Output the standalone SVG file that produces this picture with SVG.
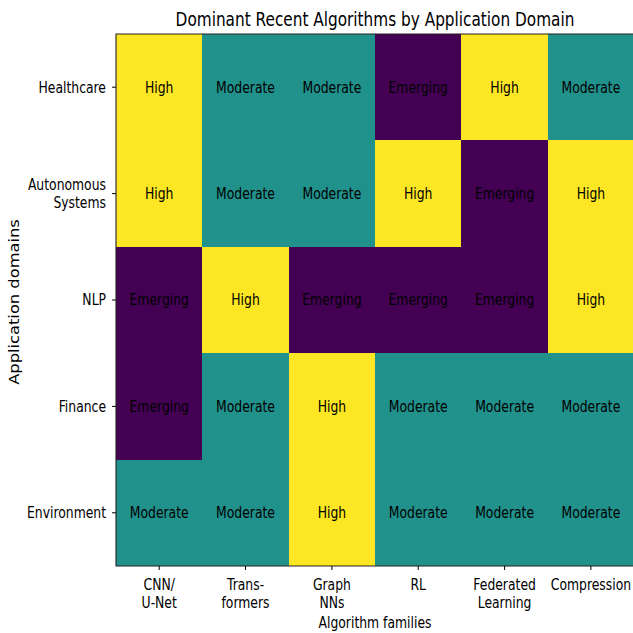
<svg xmlns="http://www.w3.org/2000/svg" width="633" height="633" viewBox="0 0 633 633">
<style>
text{font-family:"DejaVu Sans","Liberation Sans",sans-serif;fill:#000}
.c{font-size:15.3px;text-anchor:middle}
.t{font-size:15.3px}
.r{text-anchor:end}
.m{text-anchor:middle}
rect.hi,rect.mo,rect.em{shape-rendering:crispEdges}
.hi{fill:#fde725}
.mo{fill:#21918c}
.em{fill:#440154}
.tk{stroke:#000;stroke-width:1}
</style>
<rect width="633" height="633" fill="#fff"/>
<g id="cells">
<g id="row-healthcare">
<rect class="hi" x="116" y="34" width="86.35" height="106.4"/>
<rect class="mo" x="202.35" y="34" width="86.35" height="106.4"/>
<rect class="mo" x="288.7" y="34" width="86.35" height="106.4"/>
<rect class="em" x="375.05" y="34" width="86.35" height="106.4"/>
<rect class="hi" x="461.4" y="34" width="86.35" height="106.4"/>
<rect class="mo" x="547.75" y="34" width="86.35" height="106.4"/>
<text class="c" transform="translate(159.2,92.5) scale(0.81,1)">High</text>
<text class="c" transform="translate(245.5,92.5) scale(0.81,1)">Moderate</text>
<text class="c" transform="translate(331.9,92.5) scale(0.81,1)">Moderate</text>
<text class="c" transform="translate(418.2,92.5) scale(0.81,1)">Emerging</text>
<text class="c" transform="translate(504.6,92.5) scale(0.81,1)">High</text>
<text class="c" transform="translate(590.9,92.5) scale(0.81,1)">Moderate</text>
</g>
<g id="row-autonomous">
<rect class="hi" x="116" y="140.4" width="86.35" height="106.4"/>
<rect class="mo" x="202.35" y="140.4" width="86.35" height="106.4"/>
<rect class="mo" x="288.7" y="140.4" width="86.35" height="106.4"/>
<rect class="hi" x="375.05" y="140.4" width="86.35" height="106.4"/>
<rect class="em" x="461.4" y="140.4" width="86.35" height="106.4"/>
<rect class="hi" x="547.75" y="140.4" width="86.35" height="106.4"/>
<text class="c" transform="translate(159.2,198.9) scale(0.81,1)">High</text>
<text class="c" transform="translate(245.5,198.9) scale(0.81,1)">Moderate</text>
<text class="c" transform="translate(331.9,198.9) scale(0.81,1)">Moderate</text>
<text class="c" transform="translate(418.2,198.9) scale(0.81,1)">High</text>
<text class="c" transform="translate(504.6,198.9) scale(0.81,1)">Emerging</text>
<text class="c" transform="translate(590.9,198.9) scale(0.81,1)">High</text>
</g>
<g id="row-nlp">
<rect class="em" x="116" y="246.8" width="86.35" height="106.4"/>
<rect class="hi" x="202.35" y="246.8" width="86.35" height="106.4"/>
<rect class="em" x="288.7" y="246.8" width="86.35" height="106.4"/>
<rect class="em" x="375.05" y="246.8" width="86.35" height="106.4"/>
<rect class="em" x="461.4" y="246.8" width="86.35" height="106.4"/>
<rect class="hi" x="547.75" y="246.8" width="86.35" height="106.4"/>
<text class="c" transform="translate(159.2,305.3) scale(0.81,1)">Emerging</text>
<text class="c" transform="translate(245.5,305.3) scale(0.81,1)">High</text>
<text class="c" transform="translate(331.9,305.3) scale(0.81,1)">Emerging</text>
<text class="c" transform="translate(418.2,305.3) scale(0.81,1)">Emerging</text>
<text class="c" transform="translate(504.6,305.3) scale(0.81,1)">Emerging</text>
<text class="c" transform="translate(590.9,305.3) scale(0.81,1)">High</text>
</g>
<g id="row-finance">
<rect class="em" x="116" y="353.2" width="86.35" height="106.4"/>
<rect class="mo" x="202.35" y="353.2" width="86.35" height="106.4"/>
<rect class="hi" x="288.7" y="353.2" width="86.35" height="106.4"/>
<rect class="mo" x="375.05" y="353.2" width="86.35" height="106.4"/>
<rect class="mo" x="461.4" y="353.2" width="86.35" height="106.4"/>
<rect class="mo" x="547.75" y="353.2" width="86.35" height="106.4"/>
<text class="c" transform="translate(159.2,411.7) scale(0.81,1)">Emerging</text>
<text class="c" transform="translate(245.5,411.7) scale(0.81,1)">Moderate</text>
<text class="c" transform="translate(331.9,411.7) scale(0.81,1)">High</text>
<text class="c" transform="translate(418.2,411.7) scale(0.81,1)">Moderate</text>
<text class="c" transform="translate(504.6,411.7) scale(0.81,1)">Moderate</text>
<text class="c" transform="translate(590.9,411.7) scale(0.81,1)">Moderate</text>
</g>
<g id="row-environment">
<rect class="mo" x="116" y="459.6" width="86.35" height="106.4"/>
<rect class="mo" x="202.35" y="459.6" width="86.35" height="106.4"/>
<rect class="hi" x="288.7" y="459.6" width="86.35" height="106.4"/>
<rect class="mo" x="375.05" y="459.6" width="86.35" height="106.4"/>
<rect class="mo" x="461.4" y="459.6" width="86.35" height="106.4"/>
<rect class="mo" x="547.75" y="459.6" width="86.35" height="106.4"/>
<text class="c" transform="translate(159.2,518.1) scale(0.81,1)">Moderate</text>
<text class="c" transform="translate(245.5,518.1) scale(0.81,1)">Moderate</text>
<text class="c" transform="translate(331.9,518.1) scale(0.81,1)">High</text>
<text class="c" transform="translate(418.2,518.1) scale(0.81,1)">Moderate</text>
<text class="c" transform="translate(504.6,518.1) scale(0.81,1)">Moderate</text>
<text class="c" transform="translate(590.9,518.1) scale(0.81,1)">Moderate</text>
</g>
</g>
<g id="frame">
<path d="M634.5,34 H116 V566 H634.5" fill="none" stroke="#222" stroke-width="1.1"/>
</g>
<g id="yticks">
<path class="tk" d="M112,87.2H116M112,193.6H116M112,300H116M112,406.4H116M112,512.8H116"/>
<text class="t r" transform="translate(106,92.5) scale(0.81,1)">Healthcare</text>
<text class="t r" transform="translate(106,190) scale(0.81,1)">Autonomous</text>
<text class="t r" transform="translate(106,208) scale(0.81,1)">Systems</text>
<text class="t r" transform="translate(106,305.3) scale(0.81,1)">NLP</text>
<text class="t r" transform="translate(106,411.7) scale(0.81,1)">Finance</text>
<text class="t r" transform="translate(106,518.1) scale(0.81,1)">Environment</text>
</g>
<g id="xticks">
<path class="tk" d="M159.2,566V570M245.5,566V570M331.9,566V570M418.2,566V570M504.6,566V570M590.9,566V570"/>
<text class="t m" transform="translate(159.2,590) scale(0.81,1)">CNN/</text>
<text class="t m" transform="translate(159.2,608) scale(0.81,1)">U-Net</text>
<text class="t m" transform="translate(245.5,590) scale(0.81,1)">Trans-</text>
<text class="t m" transform="translate(245.5,608) scale(0.81,1)">formers</text>
<text class="t m" transform="translate(331.9,590) scale(0.81,1)">Graph</text>
<text class="t m" transform="translate(331.9,608) scale(0.81,1)">NNs</text>
<text class="t m" transform="translate(418.2,590) scale(0.81,1)">RL</text>
<text class="t m" transform="translate(504.6,590) scale(0.81,1)">Federated</text>
<text class="t m" transform="translate(504.6,608) scale(0.81,1)">Learning</text>
<text class="t m" transform="translate(590.9,590) scale(0.81,1)">Compression</text>
</g>
<g id="labels">
<text class="t m" transform="translate(375,628) scale(0.81,1)">Algorithm families</text>
<text class="m" style="font-size:16.3px" transform="translate(19,302) scale(0.86,1) rotate(-90)">Application domains</text>
<text class="m" style="font-size:18.9px" transform="translate(375,26) scale(0.81,1)">Dominant Recent Algorithms by Application Domain</text>
</g>
</svg>
